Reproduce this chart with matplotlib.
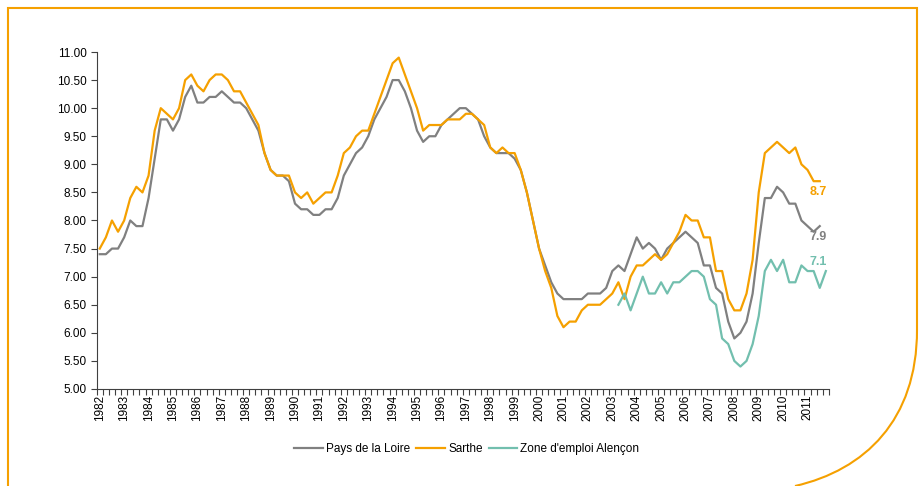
import numpy as np
import matplotlib
matplotlib.use("Agg")
import matplotlib.pyplot as plt
from matplotlib.path import Path
from matplotlib.patches import PathPatch

plt.rcParams['font.family'] = ['Liberation Sans', 'DejaVu Sans']

# quarterly unemployment rates, 1982 Q1 onwards
years = list(range(1982, 2012))

pays_de_la_loire = [
    7.4, 7.4, 7.5, 7.5, 7.7, 8.0, 7.9, 7.9, 8.4, 9.1, 9.8, 9.8,
    9.6, 9.8, 10.2, 10.4, 10.1, 10.1, 10.2, 10.2, 10.3, 10.2, 10.1, 10.1,
    10.0, 9.8, 9.6, 9.2, 8.9, 8.8, 8.8, 8.7, 8.3, 8.2, 8.2, 8.1,
    8.1, 8.2, 8.2, 8.4, 8.8, 9.0, 9.2, 9.3, 9.5, 9.8, 10.0, 10.2,
    10.5, 10.5, 10.3, 10.0, 9.6, 9.4, 9.5, 9.5, 9.7, 9.8, 9.9, 10.0,
    10.0, 9.9, 9.8, 9.5, 9.3, 9.2, 9.2, 9.2, 9.1, 8.9, 8.5, 8.0,
    7.5, 7.2, 6.9, 6.7, 6.6, 6.6, 6.6, 6.6, 6.7, 6.7, 6.7, 6.8,
    7.1, 7.2, 7.1, 7.4, 7.7, 7.5, 7.6, 7.5, 7.3, 7.5, 7.6, 7.7,
    7.8, 7.7, 7.6, 7.2, 7.2, 6.8, 6.7, 6.2, 5.9, 6.0, 6.2, 6.7,
    7.6, 8.4, 8.4, 8.6, 8.5, 8.3, 8.3, 8.0, 7.9, 7.8, 7.9,
]

sarthe = [
    7.5, 7.7, 8.0, 7.8, 8.0, 8.4, 8.6, 8.5, 8.8, 9.6, 10.0, 9.9,
    9.8, 10.0, 10.5, 10.6, 10.4, 10.3, 10.5, 10.6, 10.6, 10.5, 10.3, 10.3,
    10.1, 9.9, 9.7, 9.2, 8.9, 8.8, 8.8, 8.8, 8.5, 8.4, 8.5, 8.3,
    8.4, 8.5, 8.5, 8.8, 9.2, 9.3, 9.5, 9.6, 9.6, 9.9, 10.2, 10.5,
    10.8, 10.9, 10.6, 10.3, 10.0, 9.6, 9.7, 9.7, 9.7, 9.8, 9.8, 9.8,
    9.9, 9.9, 9.8, 9.7, 9.3, 9.2, 9.3, 9.2, 9.2, 8.9, 8.5, 8.0,
    7.5, 7.1, 6.8, 6.3, 6.1, 6.2, 6.2, 6.4, 6.5, 6.5, 6.5, 6.6,
    6.7, 6.9, 6.6, 7.0, 7.2, 7.2, 7.3, 7.4, 7.3, 7.4, 7.6, 7.8,
    8.1, 8.0, 8.0, 7.7, 7.7, 7.1, 7.1, 6.6, 6.4, 6.4, 6.7, 7.3,
    8.5, 9.2, 9.3, 9.4, 9.3, 9.2, 9.3, 9.0, 8.9, 8.7, 8.7,
]

# no data for Alençon before 2003 Q2
alencon = [np.nan] * 85 + [
    6.5, 6.7, 6.4, 6.7, 7.0, 6.7, 6.7, 6.9, 6.7, 6.9, 6.9, 7.0,
    7.1, 7.1, 7.0, 6.6, 6.5, 5.9, 5.8, 5.5, 5.4, 5.5, 5.8, 6.3,
    7.1, 7.3, 7.1, 7.3, 6.9, 6.9, 7.2, 7.1, 7.1, 6.8, 7.1,
]

end_labels = ["8.7", "7.9", "7.1"]

c_grey = "#808080"
c_orange = "#F5A000"
c_teal = "#72BFAE"

fig = plt.figure(figsize=(9.21, 4.86), dpi=100)
ax = fig.add_axes([0.105, 0.1996, 0.795, 0.6934])

n_q = len(years) * 4
for vals, col, name in [(pays_de_la_loire, c_grey, "Pays de la Loire"),
                        (sarthe, c_orange, "Sarthe"),
                        (alencon, c_teal, "Zone d'emploi Alençon")]:
    ax.plot(np.arange(len(vals)), vals, color=col, lw=1.6, label=name,
            solid_joinstyle='round')

ax.set_xlim(-0.5, n_q - 0.5)
ax.set_ylim(5, 11)
ax.set_yticks(np.arange(5, 11.01, 0.5))
ax.yaxis.set_major_formatter(matplotlib.ticker.FormatStrFormatter('%.2f'))

# ticks on quarter boundaries, year labels centred on Q1
ax.set_xticks(np.arange(n_q + 1) - 0.5)
ax.set_xticklabels([])
ax.set_xticks(np.arange(len(years)) * 4, minor=True)
ax.set_xticklabels([str(y) for y in years], minor=True, rotation=90)
ax.tick_params(axis='x', which='minor', length=0, pad=4, labelsize=8.5)
ax.tick_params(axis='x', which='major', length=4, width=0.8, color='#404040')
ax.tick_params(axis='y', length=4, width=0.8, color='#404040', labelsize=8.5, pad=3)

for s in ['top', 'right']:
    ax.spines[s].set_visible(False)
for s in ['left', 'bottom']:
    ax.spines[s].set_color('#404040')
    ax.spines[s].set_linewidth(0.8)

# value labels at the end of the series
ax.text(117.7, 8.51, end_labels[0], color=c_orange, fontsize=9, fontweight='bold',
        ha='center', va='center')
ax.text(117.7, 7.70, end_labels[1], color=c_grey, fontsize=9, fontweight='bold',
        ha='center', va='center')
ax.text(117.7, 7.26, end_labels[2], color=c_teal, fontsize=9, fontweight='bold',
        ha='center', va='center')

ax.legend(loc='center', bbox_to_anchor=(0.507, 0.076), bbox_transform=fig.transFigure,
          ncol=3, frameon=False, fontsize=8.5, handlelength=2.4, handletextpad=0.3,
          columnspacing=0.5)

# orange frame with rounded bottom-right corner
W, H = 921.0, 486.0
pts = [(8, 490), (8, 8), (917, 8), (917, 330), (917, 420), (865, 470), (795, 486)]
codes = [Path.MOVETO, Path.LINETO, Path.LINETO, Path.LINETO,
         Path.CURVE4, Path.CURVE4, Path.CURVE4]
verts = [(x / W, 1 - y / H) for x, y in pts]
frame = PathPatch(Path(verts, codes), transform=fig.transFigure, fill=False,
                  edgecolor=c_orange, lw=1.5, clip_on=False)
fig.patches.append(frame)

fig.savefig("out.png", dpi=100)
